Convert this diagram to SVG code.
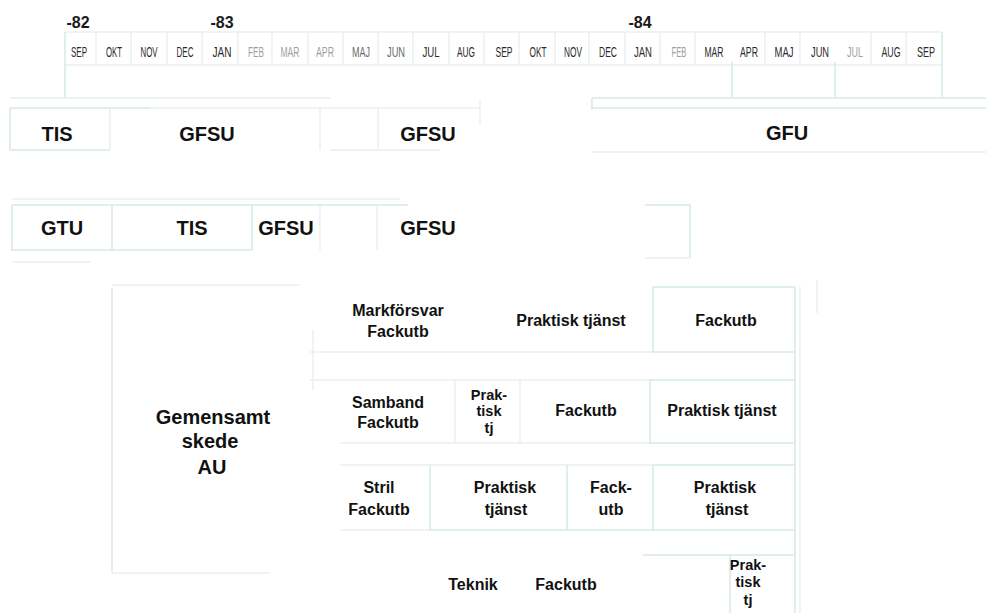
<svg xmlns="http://www.w3.org/2000/svg" width="986" height="613" viewBox="0 0 986 613">
<style>
.bg{fill:#ffffff}
.ln{stroke:#d6e9e9;stroke-width:1.5;fill:none}
.lf{stroke:#e9f1f1;stroke-width:1.5;fill:none}
.yr{font-family:"Liberation Sans",Arial,sans-serif;font-weight:bold;font-size:16px;fill:#1a1a1a;text-anchor:middle}
.mo{font-family:"Liberation Sans",Arial,sans-serif;font-size:14px;fill:#2a2a2a;text-anchor:middle}
.mol{fill:#a0a0a0}
.mom{fill:#6a6a6a}
.big{font-family:"Liberation Sans",Arial,sans-serif;font-weight:bold;font-size:20px;fill:#111;text-anchor:middle}
.lb{font-family:"Liberation Sans",Arial,sans-serif;font-weight:bold;font-size:16px;fill:#111;text-anchor:middle}
.sm{font-size:14.5px}
</style>
<rect class="bg" x="0" y="0" width="986" height="613"/>

<g id="timeline">
  <text class="yr" x="78" y="28">-82</text>
  <text class="yr" x="222" y="28">-83</text>
  <text class="yr" x="640" y="28">-84</text>
  <g id="months">
    <text class="mo" x="79" y="57" textLength="16" lengthAdjust="spacingAndGlyphs">SEP</text>
    <text class="mo" x="114" y="57" textLength="16" lengthAdjust="spacingAndGlyphs">OKT</text>
    <text class="mo" x="149" y="57" textLength="17" lengthAdjust="spacingAndGlyphs">NOV</text>
    <text class="mo" x="185" y="57" textLength="17" lengthAdjust="spacingAndGlyphs">DEC</text>
    <text class="mo" x="222" y="57" textLength="19" lengthAdjust="spacingAndGlyphs">JAN</text>
    <text class="mo mol" x="256" y="57" textLength="16" lengthAdjust="spacingAndGlyphs">FEB</text>
    <text class="mo mol" x="290" y="57" textLength="19" lengthAdjust="spacingAndGlyphs">MAR</text>
    <text class="mo mol" x="325" y="57" textLength="18" lengthAdjust="spacingAndGlyphs">APR</text>
    <text class="mo mom" x="361" y="57" textLength="18" lengthAdjust="spacingAndGlyphs">MAJ</text>
    <text class="mo mom" x="396" y="57" textLength="18" lengthAdjust="spacingAndGlyphs">JUN</text>
    <text class="mo" x="431" y="57" textLength="17" lengthAdjust="spacingAndGlyphs">JUL</text>
    <text class="mo" x="466" y="57" textLength="18" lengthAdjust="spacingAndGlyphs">AUG</text>
    <text class="mo" x="504" y="57" textLength="17" lengthAdjust="spacingAndGlyphs">SEP</text>
    <text class="mo" x="538" y="57" textLength="17" lengthAdjust="spacingAndGlyphs">OKT</text>
    <text class="mo" x="573" y="57" textLength="18" lengthAdjust="spacingAndGlyphs">NOV</text>
    <text class="mo" x="608" y="57" textLength="18" lengthAdjust="spacingAndGlyphs">DEC</text>
    <text class="mo" x="643" y="57" textLength="18" lengthAdjust="spacingAndGlyphs">JAN</text>
    <text class="mo mol" x="679" y="57" textLength="15" lengthAdjust="spacingAndGlyphs">FEB</text>
    <text class="mo" x="714" y="57" textLength="19" lengthAdjust="spacingAndGlyphs">MAR</text>
    <text class="mo" x="749" y="57" textLength="18" lengthAdjust="spacingAndGlyphs">APR</text>
    <text class="mo" x="784" y="57" textLength="19" lengthAdjust="spacingAndGlyphs">MAJ</text>
    <text class="mo" x="820" y="57" textLength="18" lengthAdjust="spacingAndGlyphs">JUN</text>
    <text class="mo mol" x="855" y="57" textLength="16" lengthAdjust="spacingAndGlyphs">JUL</text>
    <text class="mo" x="891" y="57" textLength="19" lengthAdjust="spacingAndGlyphs">AUG</text>
    <text class="mo" x="926" y="57" textLength="18" lengthAdjust="spacingAndGlyphs">SEP</text>
  </g>
</g>

<g id="connectors">
  <path class="lf" d="M65 32 H942 M65 65 H942"/>
  <path class="ln" d="M65 32 V98 M942 32 V97 M732 62 V97 M835 62 V97"/>
  <path class="lf" d="M96 32 V65 M131 32 V65 M167 32 V65 M202 32 V65 M238 32 V65 M272 32 V65 M308 32 V65 M343 32 V65 M378 32 V65 M413 32 V65 M449 32 V65 M484 32 V65 M519 32 V65 M555 32 V65 M589 32 V65 M625 32 V65 M660 32 V65 M695 32 V65 M765 32 V65 M800 32 V65 M871 32 V65 M906 32 V65"/>
  <path class="lf" d="M10 98 H330"/>
  <path class="ln" d="M10 108 H150 M10 108 V150 H110"/>
  <path class="lf" d="M150 108 H480 M330 150 H440 M320 108 V150 M378 108 V150 M480 100 V125 M110 150 V108"/>
  <path class="ln" d="M592 98 H986 M592 108 H986 M592 98 V110"/>
  <path class="lf" d="M592 152 H986"/>
  <path class="lf" d="M12 199 H400"/>
  <path class="ln" d="M12 205 H408 M12 205 V250 H252 M112 205 V250 M252 205 V250"/>
  <path class="lf" d="M320 205 V250 M377 205 V250 M12 262 H90"/>
  <path class="ln" d="M645 205 H690 V258"/>
  <path class="lf" d="M645 258 H690"/>
  <path class="lf" d="M112 285 H300"/>
  <path class="ln" d="M112 288 V573"/>
  <path class="lf" d="M112 573 H270"/>
  <path class="lf" d="M313 330 V390 M310 352 H653 M310 380 H653 M340 443 H653 M455 380 V443 M520 380 V443"/>
  <path class="ln" d="M653 287 H795 M653 287 V352 H795 M650 380 H795 M650 380 V443 H795"/>
  <path class="lf" d="M340 465 H653 M340 530 H430"/>
  <path class="ln" d="M653 465 H795 M430 530 H795 M430 465 V530 M567 465 V530 M653 465 V530"/>
  <path class="ln" d="M643 555 H795 M730 555 V613"/>
  <path class="ln" d="M795 287 V613"/>
  <path class="lf" d="M817 280 V313 M800 287 V613"/>
</g>

<g id="row1">
  <g id="r1-tis"><text class="big" x="57" y="141">TIS</text></g>
  <g id="r1-gfsu1"><text class="big" x="207" y="141">GFSU</text></g>
  <g id="r1-gfsu2"><text class="big" x="428" y="141">GFSU</text></g>
  <g id="r1-gfu"><text class="big" x="787" y="140">GFU</text></g>
</g>

<g id="row2">
  <g id="r2-gtu"><text class="big" x="62" y="235">GTU</text></g>
  <g id="r2-tis"><text class="big" x="192" y="235">TIS</text></g>
  <g id="r2-gfsu1"><text class="big" x="286" y="235">GFSU</text></g>
  <g id="r2-gfsu2"><text class="big" x="428" y="235">GFSU</text></g>
</g>

<g id="au">
  <g id="gemensamt">
    <text class="big" x="213" y="424">Gemensamt</text>
    <text class="big" x="210" y="448">skede</text>
    <text class="big" x="212" y="474">AU</text>
  </g>
  <g id="markforsvar">
    <text class="lb" x="398" y="316">Markförsvar</text>
    <text class="lb" x="398" y="337">Fackutb</text>
  </g>
  <g id="mf-praktisk"><text class="lb" x="571" y="326">Praktisk tjänst</text></g>
  <g id="mf-fackutb"><text class="lb" x="726" y="326">Fackutb</text></g>

  <g id="samband">
    <text class="lb" x="388" y="408">Samband</text>
    <text class="lb" x="388" y="428">Fackutb</text>
  </g>
  <g id="sb-praktisk">
    <text class="lb sm" x="489" y="400">Prak-</text>
    <text class="lb sm" x="489" y="416">tisk</text>
    <text class="lb sm" x="489" y="433">tj</text>
  </g>
  <g id="sb-fackutb"><text class="lb" x="586" y="416">Fackutb</text></g>
  <g id="sb-praktisk2"><text class="lb" x="722" y="416">Praktisk tjänst</text></g>

  <g id="stril">
    <text class="lb" x="379" y="493">Stril</text>
    <text class="lb" x="379" y="515">Fackutb</text>
  </g>
  <g id="st-praktisk">
    <text class="lb" x="505" y="493">Praktisk</text>
    <text class="lb" x="506" y="515">tjänst</text>
  </g>
  <g id="st-fackutb">
    <text class="lb" x="611" y="493">Fack-</text>
    <text class="lb" x="611" y="515">utb</text>
  </g>
  <g id="st-praktisk2">
    <text class="lb" x="725" y="493">Praktisk</text>
    <text class="lb" x="727" y="515">tjänst</text>
  </g>

  <g id="teknik">
    <text class="lb" x="473" y="590">Teknik</text>
  </g>
  <g id="tk-fackutb"><text class="lb" x="566" y="590">Fackutb</text></g>
  <g id="tk-praktisk">
    <text class="lb sm" x="748" y="570">Prak-</text>
    <text class="lb sm" x="748" y="587">tisk</text>
    <text class="lb sm" x="748" y="605">tj</text>
  </g>
</g>
</svg>
